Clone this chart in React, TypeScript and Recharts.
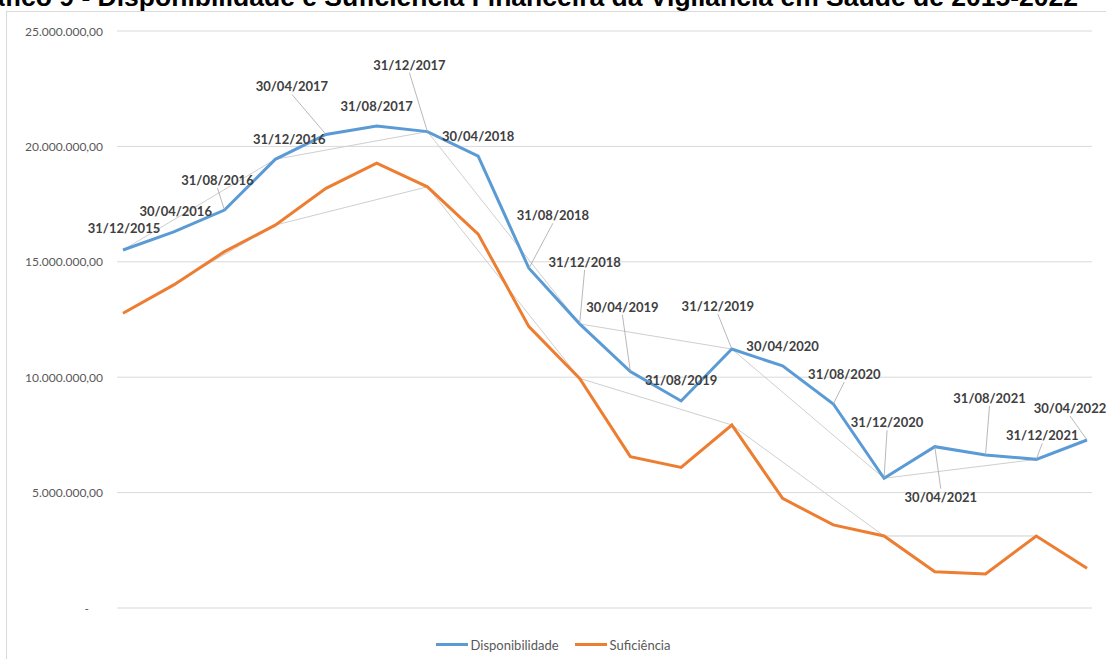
import { CartesianGrid, Line, LineChart, XAxis, YAxis } from 'recharts';

// datas de referência (quadrimestres)
const dates = [
  '31/12/2015', '30/04/2016', '31/08/2016', '31/12/2016', '30/04/2017',
  '31/08/2017', '31/12/2017', '30/04/2018', '31/08/2018', '31/12/2018',
  '30/04/2019', '31/08/2019', '31/12/2019', '30/04/2020', '31/08/2020',
  '31/12/2020', '30/04/2021', '31/08/2021', '31/12/2021', '30/04/2022',
];

const disponibilidade = [
  15510000, 16300000, 17240000, 19440000, 20520000,
  20880000, 20640000, 19580000, 14720000, 12310000,
  10240000, 8970000, 11220000, 10490000, 8840000,
  5620000, 6990000, 6630000, 6440000, 7280000,
];

const suficiencia = [
  12770000, 14000000, 15440000, 16590000, 18180000,
  19270000, 18250000, 16200000, 12190000, 9950000,
  6560000, 6090000, 7930000, 4750000, 3600000,
  3120000, 1570000, 1470000, 3120000, 1720000,
];

const yTicks = [0, 5000000, 10000000, 15000000, 20000000, 25000000];

// deslocamento dos rótulos em relação ao ponto (px)
const labelOffsets: [number, number][] = [
  [1, -22], [2, -21], [-7, -30], [14, -20], [-34, -48],
  [0, -20], [-18, -67], [0, -20], [24, -53], [5, -62],
  [-8, -65], [0, -21], [-14, -43], [0, -20], [11, -30],
  [3, -56], [6, 50], [4, -57], [6, -24], [-17, -32],
];

const data = dates.map((date, i) => ({
  date,
  disponibilidade: disponibilidade[i],
  suficiencia: suficiencia[i],
  // linhas cinza que ligam os fechamentos de ano
  dispAnual: date.startsWith('31/12') ? disponibilidade[i] : null,
  sufAnual: date.startsWith('31/12') ? suficiencia[i] : null,
}));

function fmt(v: number) {
  if (v === 0) return '-';
  const int = Math.round(v).toString().replace(/\B(?=(\d{3})+(?!\d))/g, '.');
  return `${int},00`;
}

function YTick({ x, y, payload }: any) {
  const v = payload.value;
  return (
    <text
      x={v === 0 ? x - 14 : x}
      y={y}
      textAnchor="end"
      dominantBaseline="central"
      fill="#595959"
      fontSize={12}
      fontFamily="Lato"
    >
      {fmt(v)}
    </text>
  );
}

function DateLabel({ x, y, index }: any) {
  const [dx, dy] = labelOffsets[index];
  const cx = x + dx;
  const cy = y + dy;
  const lead = Math.abs(dy) > 23;
  const sy = dy < 0 ? cy + 8 : cy - 8;
  return (
    <g>
      {lead && <line x1={cx} y1={sy} x2={x} y2={y} stroke="#a6a6a6" strokeWidth={0.8} />}
      <text
        x={cx}
        y={cy}
        textAnchor="middle"
        dominantBaseline="central"
        fill="#404040"
        fontSize={13}
        fontWeight="bold"
        fontFamily="Lato"
      >
        {dates[index]}
      </text>
    </g>
  );
}

function LegendItem({ color, label }: { color: string; label: string }) {
  return (
    <span style={{ display: 'inline-flex', alignItems: 'center', margin: '0 8px' }}>
      <span style={{ width: 32, height: 3, background: color, marginRight: 3 }} />
      <span>{label}</span>
    </span>
  );
}

export default function App() {
  return (
    <div
      style={{
        position: 'absolute',
        left: 0,
        top: 0,
        width: 1106,
        height: 659,
        overflow: 'hidden',
        background: '#fff',
      }}
    >
      <div
        style={{
          position: 'absolute',
          right: 28,
          top: -16,
          whiteSpace: 'nowrap',
          fontFamily: '"Liberation Sans", Arial, sans-serif',
          fontWeight: 'bold',
          fontSize: 26.5,
          lineHeight: '26px',
          color: '#000',
        }}
      >
        Gráfico 9 - Disponibilidade e Suficiência Financeira da Vigilância em Saúde de 2015-2022
      </div>
      <div
        style={{
          position: 'absolute',
          left: 6,
          top: 11,
          width: 1200,
          height: 700,
          border: '1px solid #d9d9d9',
        }}
      />
      <div style={{ position: 'absolute', left: 0, top: 0 }}>
        <LineChart
          width={1106}
          height={659}
          data={data}
          margin={{ top: 31, right: 14, bottom: 51, left: 0 }}
        >
          <CartesianGrid vertical={false} stroke="#d9d9d9" />
          <XAxis dataKey="date" hide padding={{ left: 6, right: 5 }} />
          <YAxis
            width={117}
            domain={[0, 25000000]}
            ticks={yTicks}
            axisLine={false}
            tickLine={false}
            tickMargin={8}
            tick={<YTick />}
            interval={0}
          />
          <Line
            dataKey="dispAnual"
            stroke="#cfcfcf"
            strokeWidth={1}
            dot={false}
            connectNulls
            legendType="none"
            isAnimationActive={false}
          />
          <Line
            dataKey="sufAnual"
            stroke="#cfcfcf"
            strokeWidth={1}
            dot={false}
            connectNulls
            legendType="none"
            isAnimationActive={false}
          />
          <Line
            dataKey="suficiencia"
            name="Suficiência"
            stroke="#ED7D31"
            strokeWidth={3}
            dot={false}
            isAnimationActive={false}
          />
          <Line
            dataKey="disponibilidade"
            name="Disponibilidade"
            stroke="#5B9BD5"
            strokeWidth={3}
            dot={false}
            label={(p: any) => <DateLabel key={p.index} {...p} />}
            isAnimationActive={false}
          />
        </LineChart>
      </div>
      <div
        style={{
          position: 'absolute',
          left: 0,
          top: 632,
          width: 1106,
          textAlign: 'center',
          fontFamily: 'Lato',
          fontSize: 13,
          color: '#595959',
          lineHeight: '18px',
        }}
      >
        <LegendItem color="#5B9BD5" label="Disponibilidade" />
        <LegendItem color="#ED7D31" label="Suficiência" />
      </div>
    </div>
  );
}
